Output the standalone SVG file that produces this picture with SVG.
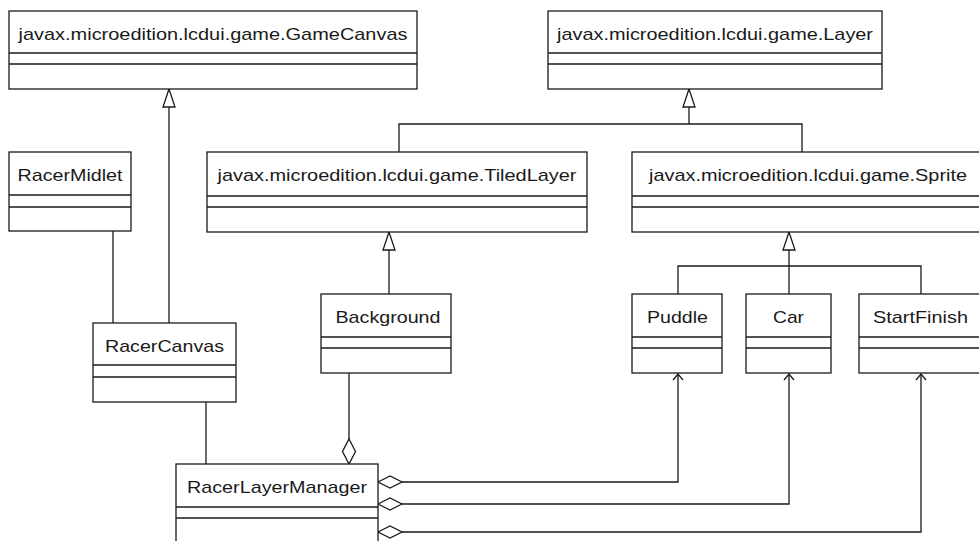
<svg xmlns="http://www.w3.org/2000/svg" width="979" height="541" viewBox="0 0 979 541">
<style>
  .box { fill: #ffffff; stroke: #1a1a1a; stroke-width: 1.3; }
  .sep { stroke: #1a1a1a; stroke-width: 1.3; }
  .lbl { font-family: "Liberation Sans", Arial, Helvetica, sans-serif; font-size: 17px; fill: #1a1a1a; text-anchor: middle; }
  .ln { fill: none; stroke: #1a1a1a; stroke-width: 1.3; }
  .tri { fill: #ffffff; stroke: #1a1a1a; stroke-width: 1.3; }
  .dia { fill: #ffffff; stroke: #1a1a1a; stroke-width: 1.3; }
  .open { fill: none; stroke: #1a1a1a; stroke-width: 1.3; }
</style>
<rect width="979" height="541" fill="#ffffff"/>

<g id="connectors">
  <!-- RacerCanvas generalizes GameCanvas -->
  <line class="ln" x1="169" y1="323" x2="169" y2="107"/>
  <polygon class="tri" points="169,89 163,107 175,107"/>
  <!-- RacerMidlet - RacerCanvas -->
  <line class="ln" x1="113" y1="231" x2="113" y2="323"/>
  <!-- TiledLayer & Sprite generalize Layer -->
  <polyline class="ln" points="399,152 399,124 802,124 802,152"/>
  <line class="ln" x1="689" y1="124" x2="689" y2="107"/>
  <polygon class="tri" points="689,89 683,107 695,107"/>
  <!-- Background generalizes TiledLayer -->
  <line class="ln" x1="389" y1="294" x2="389" y2="250"/>
  <polygon class="tri" points="389,232 383,250 395,250"/>
  <!-- Puddle, Car, StartFinish generalize Sprite -->
  <polyline class="ln" points="678,294 678,266 921,266 921,294"/>
  <line class="ln" x1="789" y1="294" x2="789" y2="250"/>
  <polygon class="tri" points="789,232 783,250 795,250"/>
  <!-- RacerCanvas - RacerLayerManager -->
  <line class="ln" x1="206" y1="402" x2="206" y2="464"/>
  <!-- Background aggregated by RacerLayerManager -->
  <line class="ln" x1="349" y1="373" x2="349" y2="439"/>
  <polygon class="dia" points="349,439 355.5,451.5 349,464 342.5,451.5"/>
  <!-- RacerLayerManager aggregation to Puddle -->
  <polyline class="ln" points="402,482 678,482 678,374"/>
  <polygon class="dia" points="378,482 390,476 402,482 390,488"/>
  <polyline class="open" points="673,380 678,374 683,380"/>
  <!-- to Car -->
  <polyline class="ln" points="402,504 789,504 789,374"/>
  <polygon class="dia" points="378,504 390,498 402,504 390,510"/>
  <polyline class="open" points="784,380 789,374 794,380"/>
  <!-- to StartFinish -->
  <polyline class="ln" points="402,532 921,532 921,374"/>
  <polygon class="dia" points="378,532 390,526 402,532 390,538"/>
  <polyline class="open" points="916,380 921,374 926,380"/>
</g>

<g id="GameCanvas">
  <rect class="box" x="9" y="11" width="408" height="78"/>
  <line class="sep" x1="9" y1="53" x2="417" y2="53"/>
  <line class="sep" x1="9" y1="64" x2="417" y2="64"/>
  <text class="lbl" x="213" y="40" textLength="389" lengthAdjust="spacingAndGlyphs">javax.microedition.lcdui.game.GameCanvas</text>
</g>

<g id="Layer">
  <rect class="box" x="548" y="11" width="334" height="78"/>
  <line class="sep" x1="548" y1="53" x2="882" y2="53"/>
  <line class="sep" x1="548" y1="64" x2="882" y2="64"/>
  <text class="lbl" x="715" y="40" textLength="316" lengthAdjust="spacingAndGlyphs">javax.microedition.lcdui.game.Layer</text>
</g>

<g id="RacerMidlet">
  <rect class="box" x="9" y="152" width="122" height="79"/>
  <line class="sep" x1="9" y1="195" x2="131" y2="195"/>
  <line class="sep" x1="9" y1="207" x2="131" y2="207"/>
  <text class="lbl" x="70" y="181" textLength="105" lengthAdjust="spacingAndGlyphs">RacerMidlet</text>
</g>

<g id="TiledLayer">
  <rect class="box" x="207" y="152" width="380" height="80"/>
  <line class="sep" x1="207" y1="196" x2="587" y2="196"/>
  <line class="sep" x1="207" y1="207" x2="587" y2="207"/>
  <text class="lbl" x="397" y="181" textLength="359" lengthAdjust="spacingAndGlyphs">javax.microedition.lcdui.game.TiledLayer</text>
</g>

<g id="Sprite">
  <rect class="box" x="632" y="152" width="352" height="80"/>
  <line class="sep" x1="632" y1="196" x2="984" y2="196"/>
  <line class="sep" x1="632" y1="207" x2="984" y2="207"/>
  <text class="lbl" x="808" y="181" textLength="318" lengthAdjust="spacingAndGlyphs">javax.microedition.lcdui.game.Sprite</text>
</g>

<g id="Background">
  <rect class="box" x="321" y="294" width="130" height="79"/>
  <line class="sep" x1="321" y1="337" x2="451" y2="337"/>
  <line class="sep" x1="321" y1="348" x2="451" y2="348"/>
  <text class="lbl" x="388" y="323" textLength="105" lengthAdjust="spacingAndGlyphs">Background</text>
</g>

<g id="RacerCanvas">
  <rect class="box" x="93" y="323" width="143" height="79"/>
  <line class="sep" x1="93" y1="365" x2="236" y2="365"/>
  <line class="sep" x1="93" y1="377" x2="236" y2="377"/>
  <text class="lbl" x="164.5" y="352" textLength="119" lengthAdjust="spacingAndGlyphs">RacerCanvas</text>
</g>

<g id="Puddle">
  <rect class="box" x="632" y="294" width="90" height="79"/>
  <line class="sep" x1="632" y1="337" x2="722" y2="337"/>
  <line class="sep" x1="632" y1="348" x2="722" y2="348"/>
  <text class="lbl" x="677.5" y="323" textLength="61" lengthAdjust="spacingAndGlyphs">Puddle</text>
</g>

<g id="Car">
  <rect class="box" x="746" y="294" width="85" height="79"/>
  <line class="sep" x1="746" y1="337" x2="831" y2="337"/>
  <line class="sep" x1="746" y1="348" x2="831" y2="348"/>
  <text class="lbl" x="788.5" y="323" textLength="31" lengthAdjust="spacingAndGlyphs">Car</text>
</g>

<g id="StartFinish">
  <rect class="box" x="859" y="294" width="124" height="79"/>
  <line class="sep" x1="859" y1="337" x2="983" y2="337"/>
  <line class="sep" x1="859" y1="348" x2="983" y2="348"/>
  <text class="lbl" x="920.5" y="323" textLength="95" lengthAdjust="spacingAndGlyphs">StartFinish</text>
</g>

<g id="RacerLayerManager">
  <rect class="box" x="176" y="464" width="202" height="90"/>
  <line class="sep" x1="176" y1="507" x2="378" y2="507"/>
  <line class="sep" x1="176" y1="518" x2="378" y2="518"/>
  <text class="lbl" x="277" y="493" textLength="180" lengthAdjust="spacingAndGlyphs">RacerLayerManager</text>
</g>
</svg>
